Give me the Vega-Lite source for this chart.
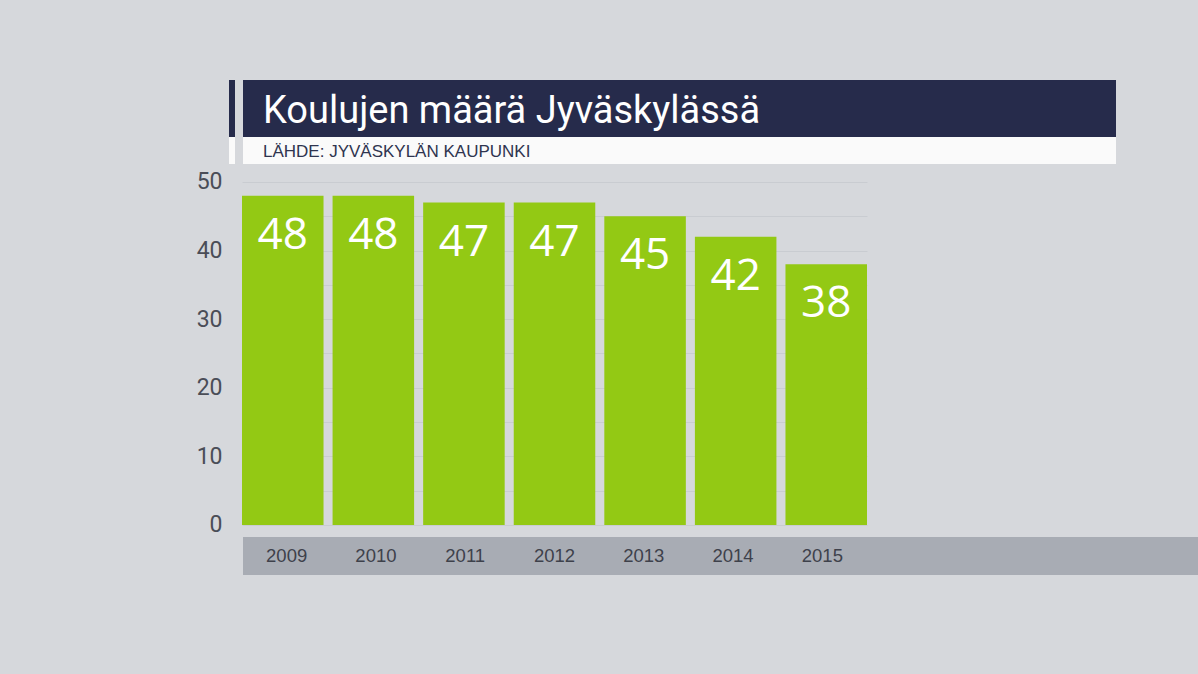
{
  "$schema": "https://vega.github.io/schema/vega-lite/v6.json",
  "description": "Koulujen määrä Jyväskylässä 2009-2015.",
  "background": "#d6d8dc",
  "autosize": {"type": "pad"},
  "padding": {"left": 196, "top": 80, "right": 0, "bottom": 99},
  "bounds": "flush",
  "columns": 2,
  "spacing": {"row": 0, "column": 8},
  "datasets": {
    "schools": [
      {"year": "2009", "count": 48},
      {"year": "2010", "count": 48},
      {"year": "2011", "count": 47},
      {"year": "2012", "count": 47},
      {"year": "2013", "count": 45},
      {"year": "2014", "count": 42},
      {"year": "2015", "count": 38}
    ]
  },
  "resolve": {"scale": {"x": "independent", "y": "independent"}},
  "concat": [
    {
      "width": 6,
      "height": 57,
      "view": {"fill": "#262b4b", "stroke": null},
      "data": {"values": [{}]},
      "mark": {"type": "text", "text": ""}
    },
    {
      "width": 873,
      "height": 57,
      "view": {"fill": "#262b4b", "stroke": null},
      "title": {
        "text": "Koulujen määrä Jyväskylässä",
        "orient": "top",
        "anchor": "start",
        "frame": "group",
        "offset": -81,
        "dx": 20,
        "baseline": "alphabetic",
        "font": "Roboto",
        "fontSize": 38,
        "fontWeight": "normal",
        "color": "white"
      },
      "data": {"values": [{}]},
      "mark": {"type": "text", "text": ""}
    },
    {
      "width": 6,
      "height": 27,
      "view": {"fill": "#fafafa", "stroke": null},
      "data": {"values": [{}]},
      "mark": {"type": "text", "text": ""}
    },
    {
      "width": 873,
      "height": 27,
      "view": {"fill": "#fafafa", "stroke": null},
      "title": {
        "text": "LÄHDE: JYVÄSKYLÄN KAUPUNKI",
        "orient": "top",
        "anchor": "start",
        "frame": "group",
        "offset": -37,
        "dx": 20,
        "baseline": "alphabetic",
        "font": "Liberation Sans",
        "fontSize": 17,
        "fontWeight": "normal",
        "color": "#2f344f"
      },
      "data": {"values": [{}]},
      "mark": {"type": "text", "text": ""}
    },
    {
      "width": 6,
      "height": 373,
      "view": {"stroke": null},
      "data": {"values": [{}]},
      "mark": {"type": "text", "text": ""}
    },
    {
      "width": 643,
      "height": 373,
      "view": {"stroke": null},
      "data": {"name": "schools"},
      "encoding": {
        "x": {
          "field": "year",
          "type": "nominal",
          "scale": {"range": [-1, 624], "paddingInner": 0.1, "paddingOuter": 0},
          "axis": null
        },
        "y": {
          "field": "count",
          "type": "quantitative",
          "scale": {"domain": [-1.75, 52.62], "nice": false, "zero": false},
          "axis": {
            "title": null,
            "values": [0, 5, 10, 15, 20, 25, 30, 35, 40, 45, 50],
            "labelExpr": "datum.value % 10 == 0 ? datum.label : ''",
            "grid": true,
            "gridColor": "#c9ccd1",
            "gridWidth": 1.2,
            "ticks": false,
            "domain": false,
            "labelPadding": 21,
            "labelFont": "Roboto",
            "labelFontSize": 23,
            "labelColor": "#4a4d57"
          }
        }
      },
      "layer": [
        {
          "mark": {"type": "bar", "color": "#93c914"},
          "encoding": {"y2": {"datum": 0}}
        },
        {
          "mark": {
            "type": "text",
            "color": "white",
            "font": "Open Sans",
            "fontSize": 44,
            "baseline": "alphabetic",
            "align": "center",
            "dy": 53
          },
          "encoding": {"text": {"field": "count", "type": "quantitative"}}
        }
      ]
    },
    {
      "width": 6,
      "height": 38,
      "view": {"stroke": null},
      "data": {"values": [{}]},
      "mark": {"type": "text", "text": ""}
    },
    {
      "width": 956,
      "height": 38,
      "view": {"fill": "#a8acb4", "stroke": null},
      "data": {"name": "schools"},
      "mark": {
        "type": "text",
        "font": "Liberation Sans",
        "fontSize": 18.5,
        "color": "#3e414b",
        "baseline": "middle",
        "align": "center"
      },
      "encoding": {
        "x": {
          "field": "year",
          "type": "nominal",
          "scale": {"range": [-1, 624], "paddingInner": 0.1, "paddingOuter": 0},
          "axis": null
        },
        "text": {"field": "year"}
      }
    }
  ]
}
